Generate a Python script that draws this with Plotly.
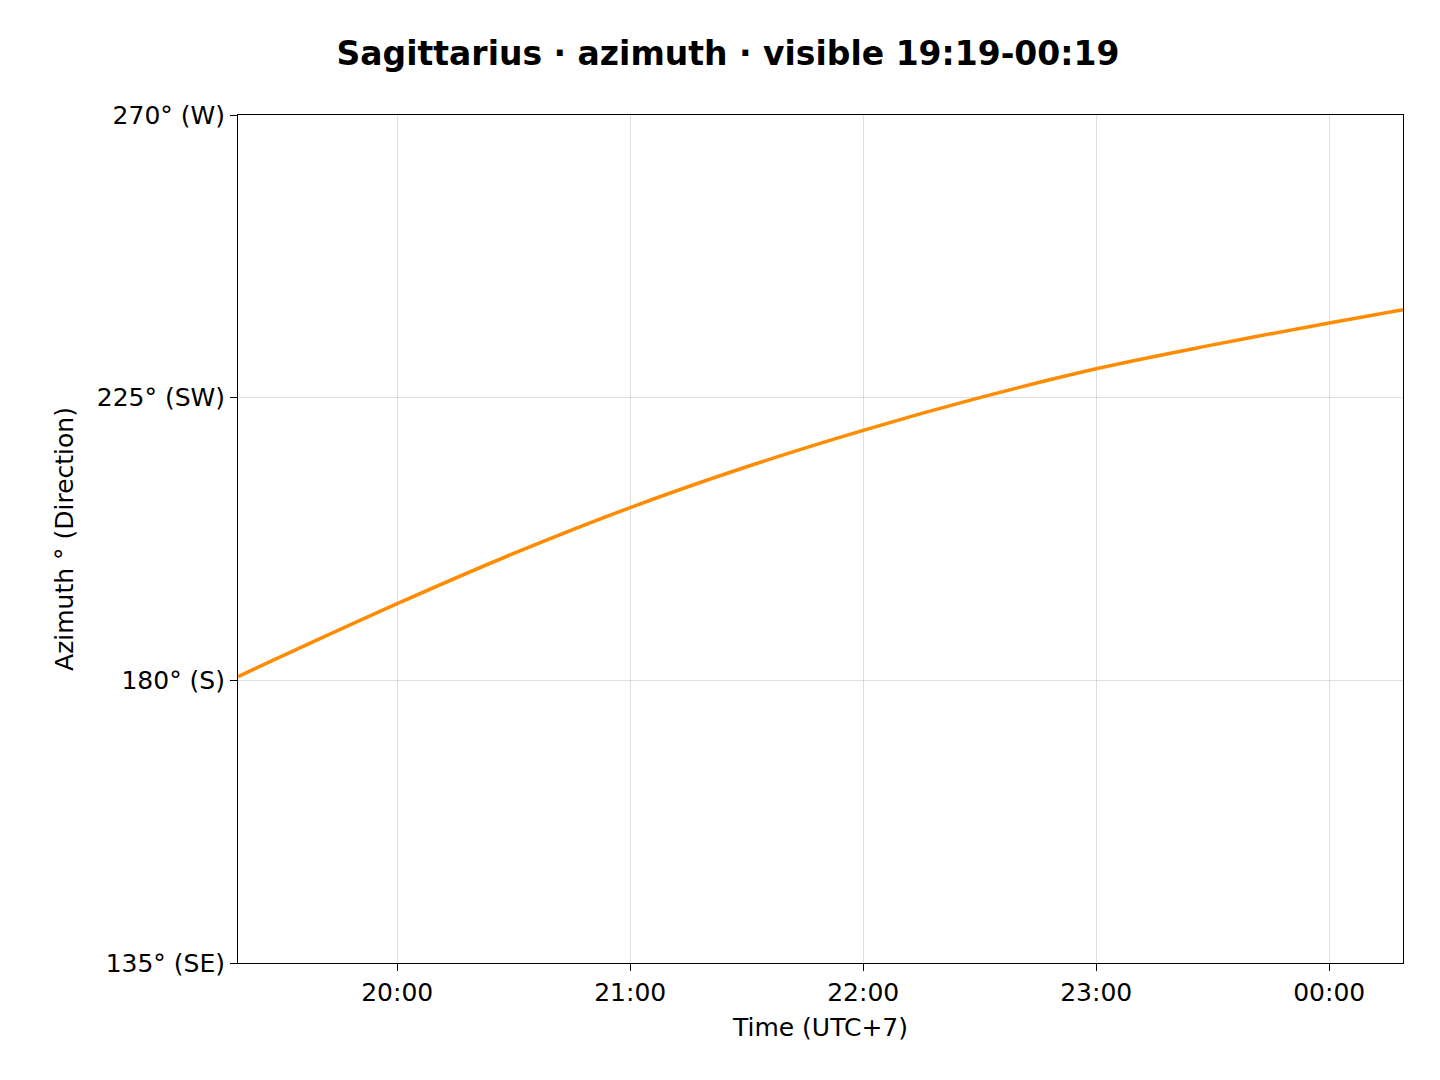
import plotly.graph_objects as go

times = ["2024-01-01 19:19", "2024-01-01 20:00", "2024-01-01 20:30", "2024-01-01 21:00",
         "2024-01-01 21:30", "2024-01-01 22:00", "2024-01-01 22:30", "2024-01-01 23:00",
         "2024-01-01 23:30", "2024-01-02 00:00", "2024-01-02 00:19"]
azimuth = [180.6, 192.2, 200.2, 207.5, 214.0, 219.8, 225.0, 229.6, 233.4, 236.9, 239.0]

tick_vals = [135, 180, 225, 270]
tick_text = ["135° (SE)", "180° (S)", "225° (SW)", "270° (W)"]

fig = go.Figure()
fig.add_trace(go.Scatter(x=times, y=azimuth, mode="lines", line=dict(color="#ff8c00", width=3.5, shape="spline")))

fig.update_layout(
    width=1440, height=1080, plot_bgcolor="white", paper_bgcolor="white",
    font=dict(family="DejaVu Sans", size=25, color="black"),
    title=dict(text="<b>Sagittarius · azimuth · visible 19:19-00:19</b>", x=0.5, xanchor="center",
               y=0.958, yanchor="middle", font=dict(size=33)),
    margin=dict(l=230, r=45, t=107, b=125),
    showlegend=False,
)
fig.update_xaxes(range=["2024-01-01 19:19", "2024-01-02 00:19"], tickformat="%H:%M", dtick=3600000,
                 tick0="2024-01-01 20:00", title_text="Time (UTC+7)", title_font_size=25,
                 title_standoff=12, showgrid=True,
                 gridcolor="rgba(0,0,0,0.12)", showline=True, linecolor="black", mirror=True,
                 ticks="outside", ticklen=7, tickcolor="black")
fig.update_yaxes(range=[135, 270], tickvals=tick_vals, ticktext=tick_text, title_text="Azimuth ° (Direction)",
                 title_font_size=25, showgrid=True, gridcolor="rgba(0,0,0,0.12)", showline=True,
                 linecolor="black", mirror=True,
                 ticks="outside", ticklen=7, tickcolor="black", zeroline=False)
fig.write_html("out.html")
